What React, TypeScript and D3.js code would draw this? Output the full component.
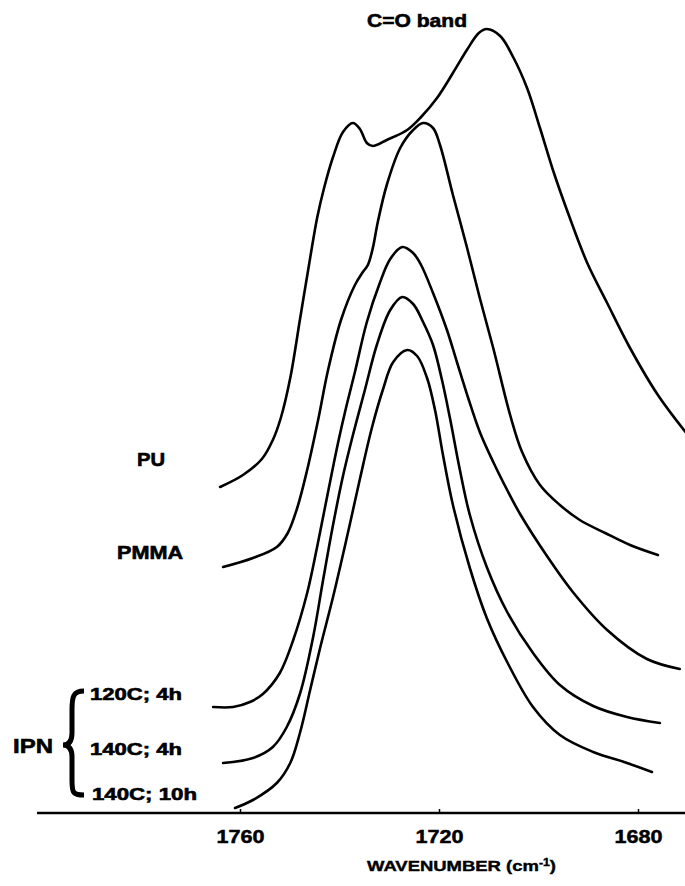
import { useEffect, useMemo, useRef } from "react";
import * as d3 from "d3";

const WIDTH = 685;
const HEIGHT = 886;
const AXIS_Y = 813;

// spectra: [wavenumber (cm-1), absorbance, offset stacked, arb. units]
const puSpectrum: [number, number][] = [
  [1764.0, 3.26], [1759.4, 3.38], [1755.6, 3.54], [1753.4, 3.73], [1751.8, 3.95],
  [1749.9, 4.35], [1747.9, 4.95], [1745.9, 5.55], [1744.5, 5.95], [1743.1, 6.25],
  [1741.3, 6.56], [1739.3, 6.81], [1737.3, 6.9], [1735.9, 6.84], [1734.5, 6.7],
  [1733.3, 6.67], [1730.5, 6.73], [1726.4, 6.83], [1723.6, 6.96], [1720.4, 7.15],
  [1717.2, 7.4], [1714.4, 7.63], [1712.0, 7.8], [1710.4, 7.84], [1707.7, 7.77],
  [1705.1, 7.56], [1702.3, 7.25], [1699.7, 6.85], [1697.1, 6.43], [1693.7, 5.95],
  [1690.2, 5.5], [1686.2, 5.1], [1681.6, 4.65], [1676.0, 4.18], [1669.5, 3.75],
];

const pmmaSpectrum: [number, number][] = [
  [1763.4, 2.46], [1757.4, 2.55], [1752.6, 2.66], [1750.4, 2.8], [1748.5, 3.05],
  [1746.5, 3.43], [1744.3, 3.93], [1742.3, 4.43], [1739.7, 4.93], [1736.9, 5.28],
  [1735.3, 5.41], [1734.3, 5.48], [1733.3, 5.65], [1732.3, 5.91], [1730.5, 6.28],
  [1727.8, 6.65], [1725.2, 6.83], [1723.2, 6.9], [1721.2, 6.85], [1719.8, 6.68],
  [1717.2, 6.18], [1714.4, 5.66], [1711.8, 5.15], [1709.1, 4.65], [1705.7, 3.98],
  [1703.3, 3.61], [1699.7, 3.28], [1695.7, 3.08], [1691.7, 2.93], [1686.6, 2.8],
  [1681.6, 2.68], [1676.0, 2.58],
];

const ipn120c4hSpectrum: [number, number][] = [
  [1765.4, 1.06], [1761.4, 1.06], [1758.0, 1.11], [1755.4, 1.19], [1752.0, 1.4],
  [1749.3, 1.73], [1746.5, 2.2], [1744.5, 2.66], [1742.5, 3.16], [1740.3, 3.7],
  [1738.7, 4.05], [1736.9, 4.41], [1734.5, 4.91], [1731.9, 5.3], [1729.8, 5.54],
  [1727.4, 5.66], [1725.2, 5.6], [1723.6, 5.48], [1721.2, 5.2], [1718.4, 4.83],
  [1716.4, 4.51], [1714.2, 4.16], [1711.8, 3.81], [1709.1, 3.51], [1706.3, 3.23],
  [1703.7, 2.99], [1698.3, 2.57], [1693.1, 2.21], [1686.2, 1.83], [1678.2, 1.54],
  [1671.6, 1.44],
];

const ipn140c4hSpectrum: [number, number][] = [
  [1763.4, 0.5], [1757.4, 0.55], [1753.4, 0.66], [1750.6, 0.86], [1747.9, 1.2],
  [1745.3, 1.76], [1743.3, 2.33], [1741.3, 2.88], [1739.3, 3.37], [1737.3, 3.78],
  [1734.9, 4.23], [1732.5, 4.68], [1729.8, 5.03], [1727.4, 5.16], [1725.2, 5.09],
  [1723.2, 4.91], [1721.2, 4.68], [1719.4, 4.33], [1717.8, 3.95], [1715.8, 3.43],
  [1713.8, 2.98], [1710.4, 2.46], [1706.3, 2.01], [1701.1, 1.6], [1695.7, 1.28],
  [1689.0, 1.07], [1682.2, 0.96], [1675.6, 0.9],
];

const ipn140c10hSpectrum: [number, number][] = [
  [1761.0, 0.05], [1757.4, 0.13], [1752.6, 0.3], [1749.9, 0.5], [1747.9, 0.81],
  [1745.9, 1.23], [1743.9, 1.65], [1741.3, 2.16], [1738.5, 2.76], [1735.9, 3.34],
  [1733.5, 3.85], [1731.3, 4.23], [1729.2, 4.51], [1726.4, 4.63], [1724.4, 4.57],
  [1722.4, 4.35], [1720.8, 4.03], [1719.2, 3.58], [1717.2, 3.08], [1713.8, 2.45],
  [1710.4, 1.95], [1706.3, 1.51], [1701.1, 1.06], [1695.7, 0.78], [1689.0, 0.61],
  [1682.2, 0.5], [1677.2, 0.41],
];

const tickValues = [1760, 1720, 1680];

const spectra = [puSpectrum, pmmaSpectrum, ipn120c4hSpectrum, ipn140c4hSpectrum, ipn140c10hSpectrum];

const FONT = "'Liberation Sans', Arial, Helvetica, sans-serif";

export default function App() {
  const axisRef = useRef<SVGGElement>(null);

  // wavenumber axis runs high -> low, left to right
  const xScale = useMemo(() => d3.scaleLinear().domain([1760, 1680]).range([240, 638]), []);
  const yScale = useMemo(() => d3.scaleLinear().domain([0, 8]).range([AXIS_Y, AXIS_Y - 800]), []);

  const line = d3
    .line<[number, number]>()
    .x((d) => xScale(d[0]))
    .y((d) => yScale(d[1]))
    .curve(d3.curveCatmullRom.alpha(0.5));

  useEffect(() => {
    const g = d3.select(axisRef.current);
    g.selectAll("*").remove();
    const axis = d3
      .axisBottom(xScale)
      .tickValues(tickValues)
      .tickSizeInner(-4)
      .tickSizeOuter(0)
      .tickPadding(17)
      .tickFormat((d) => String(d));
    g.call(axis);
    g.select(".domain").remove();
    g.selectAll(".tick line").attr("stroke", "#000").attr("stroke-width", 1.5);
    g.selectAll(".tick text")
      .attr("font-family", FONT)
      .attr("font-weight", "bold")
      .attr("font-size", 19)
      .attr("fill", "#000")
      .attr("stroke", "#000")
      .attr("stroke-width", 0.5)
      .attr("textLength", 48)
      .attr("lengthAdjust", "spacingAndGlyphs");
  }, [xScale]);

  const label = (text: string, x: number, y: number, size: number, len: number) => (
    <text
      x={x}
      y={y}
      fontFamily={FONT}
      fontWeight="bold"
      fontSize={size}
      stroke="#000"
      strokeWidth={0.6}
      textLength={len}
      lengthAdjust="spacingAndGlyphs"
    >
      {text}
    </text>
  );

  return (
    <svg
      width={WIDTH}
      height={HEIGHT}
      style={{ position: "absolute", left: 0, top: 0, background: "#fff" }}
    >
      <rect width={WIDTH} height={HEIGHT} fill="#fff" />
      {spectra.map((s, i) => (
        <path
          key={i}
          d={line(s) ?? ""}
          fill="none"
          stroke="#000"
          strokeWidth={2.6}
          strokeLinecap="round"
          strokeLinejoin="round"
        />
      ))}

      <line x1={37} x2={WIDTH} y1={AXIS_Y} y2={AXIS_Y} stroke="#000" strokeWidth={2.6} />
      <g ref={axisRef} transform={`translate(0,${AXIS_Y})`} />

      {label("C=O band", 367, 27, 19, 100)}
      {label("PU", 137, 466, 19, 28)}
      {label("PMMA", 117, 559, 18, 66)}
      {label("120C; 4h", 90, 700, 17, 92)}
      {label("140C; 4h", 90, 755, 17, 92)}
      {label("140C; 10h", 92, 800, 17, 105)}
      {label("IPN", 13, 753, 21, 40)}

      <path
        d="M 84 691 C 73 691, 72 697, 72 710 L 72 733 C 72 741, 69 745, 63 745 C 69 745, 72 749, 72 757 L 72 780 C 72 793, 73 795, 84 795"
        fill="none"
        stroke="#000"
        strokeWidth={5}
      />

      <text
        x={367}
        y={871}
        fontFamily={FONT}
        fontWeight="bold"
        fontSize={15}
        stroke="#000"
        strokeWidth={0.4}
        textLength={189}
        lengthAdjust="spacingAndGlyphs"
      >
        <tspan>WAVENUMBER  (cm</tspan>
        <tspan dy={-5} fontSize={10}>-1</tspan>
        <tspan dy={5}>)</tspan>
      </text>
    </svg>
  );
}
